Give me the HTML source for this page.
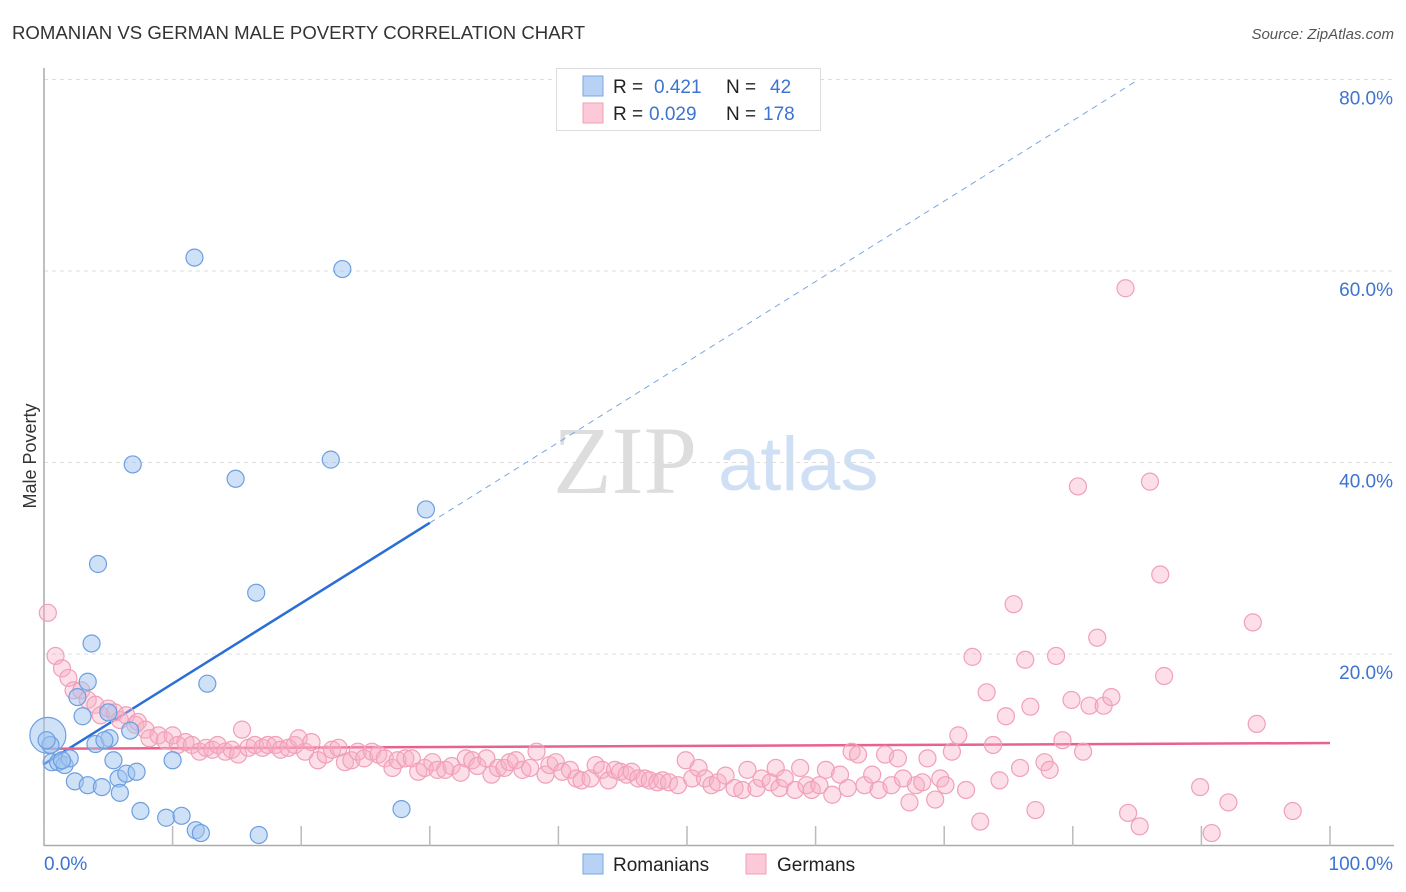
<!DOCTYPE html>
<html><head><meta charset="utf-8"><style>
body{margin:0;background:#fff;font-family:"Liberation Sans",sans-serif;}
svg{display:block}
</style></head><body>
<svg id="chart" width="1406" height="892">
<text x="12" y="39" font-size="18.6" fill="#333">ROMANIAN VS GERMAN MALE POVERTY CORRELATION CHART</text>
<text x="1394" y="39" font-size="15" fill="#555" font-style="italic" text-anchor="end">Source: ZipAtlas.com</text>
<text x="36" y="456" font-size="18" fill="#333" text-anchor="middle" transform="rotate(-90 36 456)">Male Poverty</text>
<g><text x="553" y="493" font-size="96" font-family="Liberation Serif,serif" fill="#ddd">ZIP</text><text x="718" y="490" font-size="76" fill="#cfe0f5">atlas</text></g>
<g id="grid"></g><g id="axes"></g><g id="lines"></g><g id="pts"></g>
<g>
<rect x="556.5" y="68.5" width="264" height="62" fill="#fff" stroke="#ddd"/>
<rect x="583" y="76" width="20" height="20" fill="#b8d2f5" stroke="#7aa7e0"/>
<text x="613" y="93" font-size="19" fill="#222">R = </text><text x="654" y="93" font-size="19" fill="#3d74d0">0.421</text>
<text x="726" y="93" font-size="19" fill="#222">N = </text><text x="770" y="93" font-size="19" fill="#3d74d0">42</text>
<rect x="583" y="103" width="20" height="20" fill="#fbc9d8" stroke="#f0a0b8"/>
<text x="613" y="120" font-size="19" fill="#222">R = </text><text x="649" y="120" font-size="19" fill="#3d74d0">0.029</text>
<text x="726" y="120" font-size="19" fill="#222">N = </text><text x="763" y="120" font-size="19" fill="#3d74d0">178</text>
</g>
<g>
<rect x="583" y="854" width="20" height="20" fill="#b8d2f5" stroke="#7aa7e0"/>
<text x="613" y="871" font-size="19" fill="#222">Romanians</text>
<rect x="746" y="854" width="20" height="20" fill="#fbc9d8" stroke="#f0a0b8"/>
<text x="777" y="871" font-size="19" fill="#222">Germans</text>
</g>
</svg>
<script>
const yTicks=[20,40,60,80];
const yTickLabels=["20.0%","40.0%","60.0%","80.0%"];
const xTicks=[0,10,20,30,40,50,60,70,80,90,100];
const blueX=[0.3,0.5,0.6,1.1,1.6,2.0,2.4,3.4,2.6,3.0,3.4,3.7,4.2,4.0,4.5,5.0,5.1,5.4,5.8,5.9,6.4,6.7,7.2,6.9,7.5,9.5,10.0,10.7,11.8,12.2,11.7,12.7,14.9,16.5,16.7,22.3,23.2,27.8,29.7,1.4,0.2,4.7];
const blueY=[11.5,10.5,8.7,8.7,8.4,9.1,6.7,6.3,15.5,13.5,17.1,21.1,29.4,10.6,6.1,13.9,11.2,8.9,7.0,5.5,7.5,12.0,7.7,39.8,3.6,2.9,8.9,3.1,1.6,1.3,61.4,16.9,38.3,26.4,1.1,40.3,60.2,3.8,35.1,8.9,11.0,11.0];
const pinkX=[0.3,0.9,1.4,1.9,2.3,2.9,3.4,4.0,4.4,5.0,5.5,5.9,6.4,7.1,7.3,7.9,8.2,8.9,9.4,10.0,10.4,11.0,11.5,12.1,12.6,13.1,13.5,14.1,14.6,15.1,15.4,15.9,16.4,17.0,17.4,18.0,18.4,19.0,19.5,19.8,20.3,20.8,21.3,21.9,22.4,22.9,23.4,23.9,24.4,24.9,25.5,26.0,26.5,27.1,27.5,28.1,28.6,29.1,29.6,30.2,30.6,31.2,31.7,32.4,32.8,33.3,33.7,34.4,34.8,35.3,35.8,36.2,36.7,37.2,37.8,38.3,39.0,39.3,39.8,40.3,40.9,41.4,41.8,42.5,42.9,43.4,43.9,44.4,44.8,45.3,45.7,46.2,46.7,47.1,47.7,48.1,48.6,49.3,49.9,50.4,50.9,51.4,51.9,52.4,53.0,53.7,54.3,54.7,55.4,55.8,56.5,56.9,57.2,57.6,58.4,58.8,59.3,59.7,60.3,60.8,61.3,61.9,62.5,62.8,63.3,63.8,64.4,64.9,65.4,65.9,66.4,66.8,67.3,67.8,68.3,68.7,69.3,69.7,70.1,70.6,71.1,71.7,72.2,72.8,73.3,73.8,74.3,74.8,75.4,75.9,76.3,76.7,77.1,77.8,78.2,78.7,79.2,79.9,80.4,80.8,81.3,81.9,82.4,83.0,84.1,84.3,85.2,86.0,86.8,87.1,89.9,90.8,92.1,94.0,94.3,97.1];
const pinkY=[24.3,19.8,18.5,17.5,16.2,16.2,15.2,14.7,13.6,14.3,13.9,13.1,13.6,12.6,12.9,12.1,11.2,11.5,11.0,11.5,10.5,10.8,10.5,9.8,10.2,10.0,10.5,9.8,10.0,9.5,12.1,10.2,10.5,10.2,10.5,10.5,10.0,10.2,10.5,11.2,9.8,10.8,8.9,9.5,10.0,10.2,8.7,8.9,9.8,9.1,9.8,9.5,9.1,8.1,8.9,9.1,9.1,7.7,8.1,8.7,7.9,7.9,8.3,7.6,9.1,8.9,8.3,9.1,7.4,8.1,8.1,8.7,8.9,7.9,8.1,9.8,7.4,8.4,8.7,7.7,7.9,7.0,6.8,7.0,8.4,7.9,6.8,7.9,7.7,7.4,7.7,7.0,7.0,6.8,6.6,6.8,6.6,6.3,8.9,7.0,8.1,7.0,6.3,6.6,7.3,6.0,5.8,7.9,6.0,7.0,6.6,8.1,6.0,7.0,5.8,8.1,6.3,5.8,6.3,7.9,5.3,7.4,6.0,9.8,9.5,6.3,7.4,5.8,9.5,6.3,9.1,7.0,4.5,6.3,6.6,9.1,4.8,7.0,6.3,9.8,11.5,5.8,19.7,2.5,16.0,10.5,6.8,13.5,25.2,8.1,19.4,14.5,3.7,8.7,7.9,19.8,11.0,15.2,37.5,9.8,14.6,21.7,14.6,15.5,58.2,3.4,2.0,38.0,28.3,17.7,6.1,1.3,4.5,23.3,12.7,3.6];
const blueFit=[8.5,0.84], pinkFit=[10.1,0.006];
const X0=44,X1=1330,Y0=845.5,YS=9.575;
const sx=v=>X0+v*(X1-X0)/100, sy=v=>Y0-v*YS;
const NS="http://www.w3.org/2000/svg";
function mk(p,t,a){const e=document.createElementNS(NS,t);for(const k in a)e.setAttribute(k,a[k]);document.getElementById(p).appendChild(e);return e;}
yTicks.forEach((t,i)=>{
 const g=mk('grid','line',{x1:X0,x2:1394,y1:sy(t),y2:sy(t),stroke:'#ddd','stroke-dasharray':'4,4'});
 
 
 const l=mk('grid','text',{x:1393,y:sy(t)+25,'font-size':19,fill:'#3d74d0','text-anchor':'end'});
 l.textContent=yTickLabels[i];
 
 
});
mk('axes','line',{x1:X0,x2:X0,y1:68,y2:846,stroke:'#aaa','stroke-width':1.5});
mk('axes','line',{x1:X0,x2:1394,y1:845.5,y2:845.5,stroke:'#aaa','stroke-width':1.5});
xTicks.forEach(t=>{const k=mk('axes','line',{x1:sx(t),x2:sx(t),y1:826,y2:846,stroke:'#bbb','stroke-width':1.5});
 
 });
let a=mk('axes','text',{x:44,y:870,'font-size':19,fill:'#3d74d0'});a.textContent='0.0%';


a=mk('axes','text',{x:1393,y:870,'font-size':19,fill:'#3d74d0','text-anchor':'end'});a.textContent='100.0%';


pinkX.forEach((x,i)=>{const c=mk('pts','circle',{cx:sx(x),cy:sy(pinkY[i]),r:8.5,fill:'rgba(248,175,198,0.4)',stroke:'#f0a0b8','stroke-width':1.2});
 
 });
blueX.forEach((x,i)=>{const c=mk('pts','circle',{cx:sx(x),cy:sy(blueY[i]),r:i==0?18:8.5,fill:'rgba(160,195,240,0.5)',stroke:'#6d9fe0','stroke-width':1.2});
 
 });
const xe=30, xm=(80-blueFit[0])/blueFit[1];
let ln=mk('lines','line',{x1:sx(0),y1:sy(blueFit[0]),x2:sx(xe),y2:sy(blueFit[0]+blueFit[1]*xe),stroke:'#2a6fd6','stroke-width':2.5});


ln=mk('lines','line',{x1:sx(xe),y1:sy(blueFit[0]+blueFit[1]*xe),x2:sx(xm),y2:sy(80),stroke:'#7aa7e0','stroke-width':1,'stroke-dasharray':'6,5'});


ln=mk('lines','line',{x1:sx(0),y1:sy(pinkFit[0]),x2:sx(100),y2:sy(pinkFit[0]+pinkFit[1]*100),stroke:'#e8628e','stroke-width':2.5});


</script>
</body></html>
